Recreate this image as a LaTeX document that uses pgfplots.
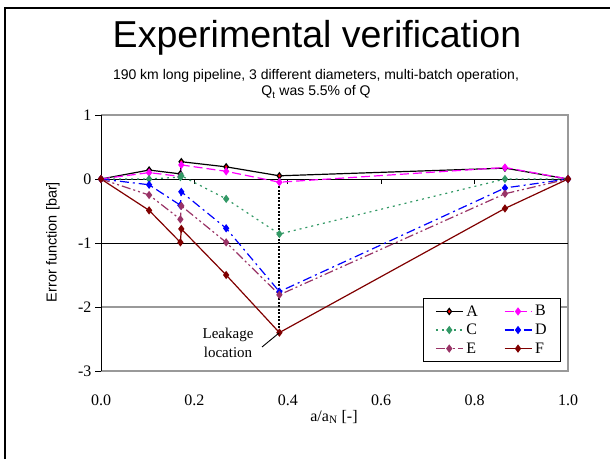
\documentclass[border=0pt]{standalone}
\usepackage{pgfplots}
\pgfplotsset{compat=1.18}
\usepackage{fontspec}
\setmainfont{Liberation Serif}
\newfontfamily\arial{Liberation Sans}
\definecolor{cA}{HTML}{000000}
\definecolor{cB}{HTML}{FF00FF}
\definecolor{cC}{HTML}{339966}
\definecolor{cD}{HTML}{0000FF}
\definecolor{cE}{HTML}{993366}
\definecolor{cF}{HTML}{800000}
\definecolor{frame}{HTML}{999999}
\begin{document}
\begin{tikzpicture}[x=1pt,y=1pt]
\useasboundingbox (0,0) rectangle (610,459);
% slide frame
\draw[line width=2pt] (5,0) -- (5,451) -- (610,451);
% titles
\node[font=\arial\fontsize{37.5}{40}\selectfont, anchor=base] at (317,411) {Experimental verification};
\node[font=\arial\fontsize{14}{16}\selectfont, anchor=base] at (316,380) {190 km long pipeline, 3 different diameters, multi-batch operation,};
\node[font=\arial\fontsize{14}{16}\selectfont, anchor=base] at (316,363) {Q\textsubscript{t} was 5.5\% of Q};
\begin{axis}[
    at={(101pt,88pt)}, anchor=south west,
    scale only axis, width=467pt, height=256pt,
    xmin=0, xmax=1, ymin=-3, ymax=1,
    clip=false,
    axis line style={draw=none},
    xtick={0,0.2,0.4,0.6,0.8,1},
    xticklabels={0.0,0.2,0.4,0.6,0.8,1.0},
    xtick style={draw=none},
    ytick={-3,-2,-1,0,1},
    yticklabels={-3,-2,-1,0,1},
    ytick pos=left,
    xtick pos=bottom,
    ytick style={black, line width=0.8pt},
    tick align=outside, major tick length=6pt,
    ticklabel style={font=\fontsize{16}{18}\selectfont},
    xticklabel style={yshift=-14pt},
    legend columns=2,
    legend cell align=left,
    legend style={at={(axis description cs:0.689,0.285)}, anchor=north west,
        draw=black, line width=0.8pt, font=\fontsize{16}{19.5}\selectfont,
        inner xsep=12pt, inner ysep=5pt, row sep=2.5pt,
        /tikz/every even column/.append style={column sep=24pt},
        /tikz/every odd column/.append style={column sep=1pt}},
    legend image code/.code={\draw[#1, mark repeat=2, mark phase=2] plot coordinates {(0pt,0pt) (13.5pt,0pt) (27pt,0pt)};},
    every axis plot/.append style={line width=1.2pt, mark=diamond*, mark size=3.2pt, mark options={solid}},
]
% frame and grid
\draw[frame, line width=1.4pt] (axis cs:0,1) -- (axis cs:1,1) -- (axis cs:1,-3) -- (axis cs:0,-3);
\draw[frame, line width=1.4pt] (axis cs:0,-2) -- (axis cs:1,-2);
\draw[black, line width=0.7pt] (axis cs:0,-1) -- (axis cs:1,-1);
\draw[black, line width=0.8pt] (axis cs:0,1) -- (axis cs:0,-3);
\draw[black, line width=0.8pt] (axis cs:0,0) -- (axis cs:1,0);
\draw[black, line width=0.8pt] (axis cs:0.2,0) -- ++(0pt,-5pt);
\draw[black, line width=0.8pt] (axis cs:0.4,0) -- ++(0pt,-5pt);
\draw[black, line width=0.8pt] (axis cs:0.6,0) -- ++(0pt,-5pt);
\draw[black, line width=0.8pt] (axis cs:0.8,0) -- ++(0pt,-5pt);
% leakage marker line
\draw[black, line width=1.8pt, dash pattern=on 2pt off 1.5pt] (axis cs:0.382,0.05) -- (axis cs:0.382,-2.40);

\addplot[cA, mark options={fill=red, draw=black, mark size=3pt}] coordinates {
    (0,0) (0.103,0.14) (0.170,0.08) (0.172,0.27) (0.268,0.19) (0.382,0.05) (0.865,0.17) (1,0)
};
\addplot[cB, dash pattern=on 9pt off 4pt] coordinates {
    (0,0) (0.103,0.10) (0.170,0.04) (0.172,0.22) (0.268,0.12) (0.382,-0.05) (0.865,0.18) (1,0)
};
\addplot[cC, dash pattern=on 2pt off 4pt] coordinates {
    (0,0) (0.103,0.00) (0.170,0.03) (0.172,0.05) (0.268,-0.31) (0.382,-0.86) (0.865,0.00) (1,0)
};
\addplot[cD, dash pattern=on 9pt off 4pt on 2pt off 4pt] coordinates {
    (0,0) (0.103,-0.09) (0.170,-0.41) (0.172,-0.20) (0.268,-0.77) (0.382,-1.76) (0.865,-0.14) (1,0)
};
\addplot[cE, dash pattern=on 9pt off 3pt on 2pt off 3pt on 2pt off 3pt] coordinates {
    (0,0) (0.103,-0.25) (0.170,-0.63) (0.172,-0.42) (0.268,-0.99) (0.382,-1.81) (0.865,-0.23) (1,0)
};
\addplot[cF] coordinates {
    (0,0) (0.103,-0.49) (0.170,-0.99) (0.172,-0.78) (0.268,-1.50) (0.382,-2.40) (0.865,-0.46) (1,0)
};
\legend{A, B, C, D, E, F}
\end{axis}
% axis labels
\node[font=\arial\fontsize{14.5}{16}\selectfont, rotate=90] at (53,217) {Error function [bar]};
\node[font=\fontsize{16}{18}\selectfont] at (334,42) {a/a\textsubscript{N} [-]};
% annotation
\node[align=center, font=\fontsize{15}{19}\selectfont] at (228,116) {Leakage\\location};
\draw[black, line width=0.9pt] (262,112) -- (279,126);
\end{tikzpicture}
\end{document}
